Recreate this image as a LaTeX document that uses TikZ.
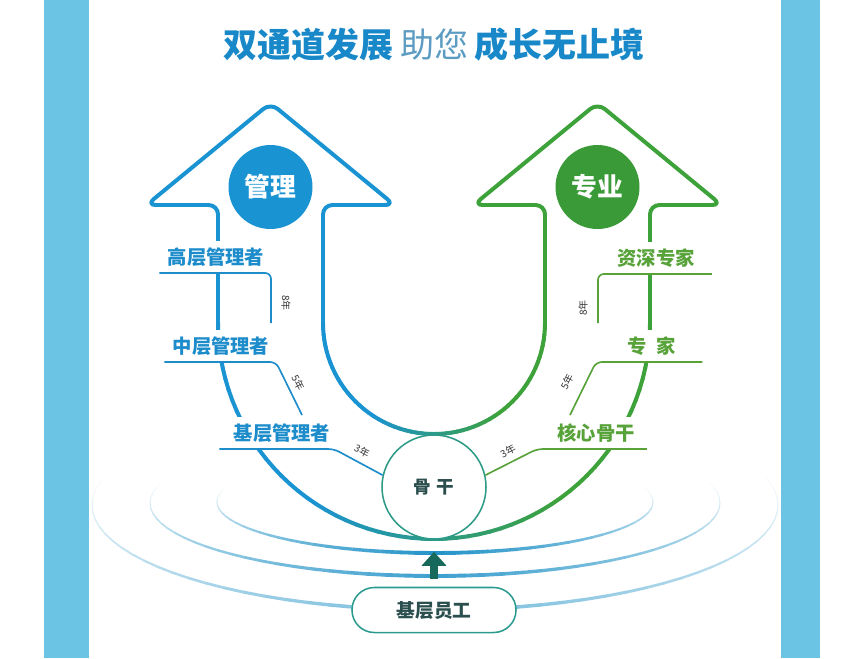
\documentclass[tikz,border=0pt]{standalone}
\usepackage{fontspec}
\newfontfamily\cjk{Noto Sans CJK SC}
\usetikzlibrary{arrows.meta}

\definecolor{band}{HTML}{6CC4E4}
\definecolor{ublue}{HTML}{1A93D3}
\definecolor{ugreen}{HTML}{3DA23A}
\definecolor{lblue}{HTML}{1C8CCB}
\definecolor{lgreen}{HTML}{58A23A}
\definecolor{rblue}{HTML}{2393C8}
\definecolor{ink}{HTML}{333333}
\definecolor{deep}{HTML}{2B4F4E}
\definecolor{upteal}{HTML}{17695C}
\definecolor{titleblue}{HTML}{1888C8}
\definecolor{titlesoft}{HTML}{5C9CC2}

\begin{document}
\begin{tikzpicture}[
  x=0.03cm, y=-0.03cm,
  uline/.style={line width=3.4pt, line cap=round, line join=round},
  badge/.style={circle, minimum size=2.52cm, inner sep=0pt, text=white,
    font=\cjk\bfseries\fontsize{22}{24}\selectfont},
  rank/.style={anchor=south, fill=white, inner xsep=0.15cm, inner ysep=0pt,
    minimum height=0.96cm, font=\cjk\bfseries\fontsize{16.5}{18}\selectfont},
  rung/.style={line width=1.4pt, rounded corners=5pt},
  yrs/.style={font=\cjk\fontsize{8.5}{9}\selectfont, text=ink, inner sep=1pt},
  upflow/.style={line width=0.24cm, upteal, -{Triangle[length=0.42cm, width=0.72cm]},
    shorten <=0.24cm, shorten >=0.36cm}
]
\useasboundingbox (0,0) rectangle (864,658);
\fill[white] (0,0) rectangle (864,658);

% side bands
\fill[band] (44,0) rectangle (89,658);
\fill[band] (781,0) rectangle (820,658);

% title
\node[font=\cjk\bfseries\fontsize{29}{32}\selectfont, text=titleblue] (title) at (434,45)
  {双通道发展\hspace{0.2em}{\mdseries\color{titlesoft}助您}\hspace{0.2em}成长无止境};

% ripples
\foreach \rx/\ry/\cy/\pale in {218/51/502/0, 285/73/503/12, 343/105/505/38} {
  \foreach \a in {-16,-12,...,192} {
    \pgfmathsetmacro\f{max(0,1-abs(\a+2-90)/108)}
    \pgfmathtruncatemacro\m{(100-\pale)*\f^0.9}
    \pgfmathsetmacro\lw{0.3+3.2*\f}
    \draw[line width=\lw pt, line cap=round, rblue!\m!white]
      ({435+\rx*cos(\a)},{\cy+\ry*sin(\a)}) -- ({435+\rx*cos(\a+4)},{\cy+\ry*sin(\a+4)});
  }
}

% U bend
\foreach \r in {111,216} {
  \foreach \a in {0,3,...,177} {
    \pgfmathtruncatemacro\m{min(100,max(0,(125-\a-1.5)*100/70))}
    \draw[uline, ugreen!\m!ublue]
      ({434+\r*cos(\a)},{323+\r*sin(\a)}) -- ({434+\r*cos(\a+3)},{323+\r*sin(\a+3)});
  }
}

% arrow outlines
\draw[uline, ublue, rounded corners=8pt] (218,323) -- (218,205) -- (146.5,205)
  -- (270.5,103) -- (394.5,205) -- (323,205) -- (323,323);
\draw[uline, ugreen, rounded corners=8pt] (545,323) -- (545,205) -- (473.5,205)
  -- (597.5,103) -- (721.5,205) -- (650,205) -- (650,323);

\node[badge, fill=ublue] (mgmt) at (270.5,187) {管理};
\node[badge, fill=ugreen!95!black] (prof) at (597.5,187) {专业};

% ranks
\node[rank, text=lblue] (senior) at (216,273) {高层管理者};
\node[rank, text=lblue] (middle) at (221,362) {中层管理者};
\node[rank, text=lblue] (junior) at (282,449) {基层管理者};
\node[rank, text=lgreen] (expert) at (656,274) {资深专家};
\node[rank, text=lgreen] (special) at (652,362) {专\hspace{0.5em}家};
\node[rank, text=lgreen] (coremem) at (596,449) {核心骨干};

\node[circle, fill=white, draw=ugreen!50!ublue, line width=1.3pt, minimum size=3.12cm,
  inner sep=0pt, text=deep, font=\cjk\bfseries\fontsize{15}{17}\selectfont]
  (core) at (434,487) {骨\hspace{0.3em}干};

% steps
\coordinate (s8) at (271,323);
\coordinate (m5) at (302,415);
\coordinate (x8) at (598,323);
\coordinate (p5) at (570,415);

\draw[rung, lblue] ([xshift=-0.09cm]senior.south west) -- (senior.south west -| s8) -- (s8);
\draw[rung, lblue] ([xshift=-0.09cm]middle.south west) -- (276,362) -- (m5);
\draw[rung, lblue] ([xshift=-0.27cm]junior.south west) -- (334,449) -- (core.167);
\draw[rung, lgreen] ([xshift=0.36cm]expert.south east) -- (expert.south east -| x8) -- (x8);
\draw[rung, lgreen] ([xshift=0.63cm]special.south east) -- (596,362) -- (p5);
\draw[rung, lgreen] ([xshift=0.21cm]coremem.south east) -- (537,449) -- (core.13);

\node[yrs, rotate=-90] (y8l) at (286,303) {8年};
\node[yrs, rotate=-63] (y5l) at (298,383) {5年};
\node[yrs, rotate=-28] (y3l) at (362,451) {3年};
\node[yrs, rotate=90] (y8r) at (583,308) {8年};
\node[yrs, rotate=63] (y5r) at (567,382) {5年};
\node[yrs, rotate=28] (y3r) at (508,451) {3年};

% base
\node[rectangle, rounded corners=0.67cm, fill=white, draw=ugreen!45!ublue, line width=1.3pt,
  minimum width=4.92cm, minimum height=1.35cm, text=deep,
  font=\cjk\bfseries\fontsize{16}{18}\selectfont] (base) at (434,610) {基层员工};

\draw[upflow] (base) -- (core);

\end{tikzpicture}
\end{document}
